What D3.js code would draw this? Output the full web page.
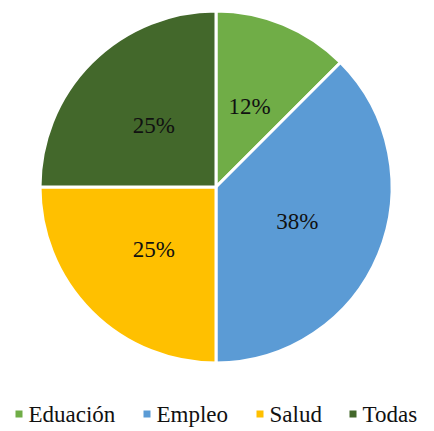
<!DOCTYPE html>
<html>
<head>
<meta charset="utf-8">
<script src="https://cdn.jsdelivr.net/npm/d3@7"></script>
</head>
<body style="margin:0">
<svg id="chart" width="434" height="431" font-family="Liberation Serif"></svg>
<script>
  /* Data */
  var categories = ["Eduación", "Empleo", "Salud", "Todas"];
  var shares = [12.5, 37.5, 25, 25];
  var labels = ["12%", "38%", "25%", "25%"];
  var colors = ["#70AD47", "#5B9BD5", "#FFC000", "#43682B"];

  /* SVG properties */
  var width = 434;
  var height = 431;
  var cx = 216, cy = 187, radius = 176;

  var svg = d3.select("#chart");

  var pie = d3.pie().sort(null).value(function(d) { return d; });
  var arcs = pie(shares);
  var arc = d3.arc().innerRadius(0).outerRadius(radius);
  var labelArc = d3.arc().innerRadius(88).outerRadius(88);

  var g = svg.append("g").attr("transform", "translate(" + cx + "," + cy + ")");

  g.selectAll("path")
   .data(arcs)
   .enter()
   .append("path")
   .attr("d", arc)
   .attr("fill", function(d, i) { return colors[i]; })
   .attr("stroke", "#fff")
   .attr("stroke-width", 3)
   .attr("stroke-linejoin", "round");

  g.selectAll("text")
   .data(arcs)
   .enter()
   .append("text")
   .text(function(d, i) { return labels[i]; })
   .attr("text-anchor", "middle")
   .attr("x", function(d) { return labelArc.centroid(d)[0]; })
   .attr("y", function(d) { return labelArc.centroid(d)[1] + 8; })
   .attr("font-size", 23)
   .attr("fill", "#111");

  /* legend: widths estimated per glyph count, no measuring */
  var legendWidths = [87, 72, 52, 56];
  var gap = 28;
  var total = d3.sum(legendWidths) + categories.length * 13 + gap * (categories.length - 1);
  var lx = (width - total) / 2;
  var starts = legendWidths.map(function(w, i) {
    var s = lx;
    lx += 13 + w + gap;
    return s;
  });

  var items = svg.append("g")
                 .attr("transform", "translate(0,414)")
                 .selectAll("g")
                 .data(categories)
                 .enter()
                 .append("g")
                 .attr("transform", function(d, i) { return "translate(" + starts[i] + ",0)"; });
  items.append("rect")
       .attr("width", 7)
       .attr("height", 7)
       .attr("y", -3.5)
       .attr("fill", function(d, i) { return colors[i]; });
  items.append("text")
       .text(function(d) { return d; })
       .attr("x", 13)
       .attr("y", 8)
       .attr("font-size", 23)
       .attr("fill", "#111");
</script>
</body>
</html>
